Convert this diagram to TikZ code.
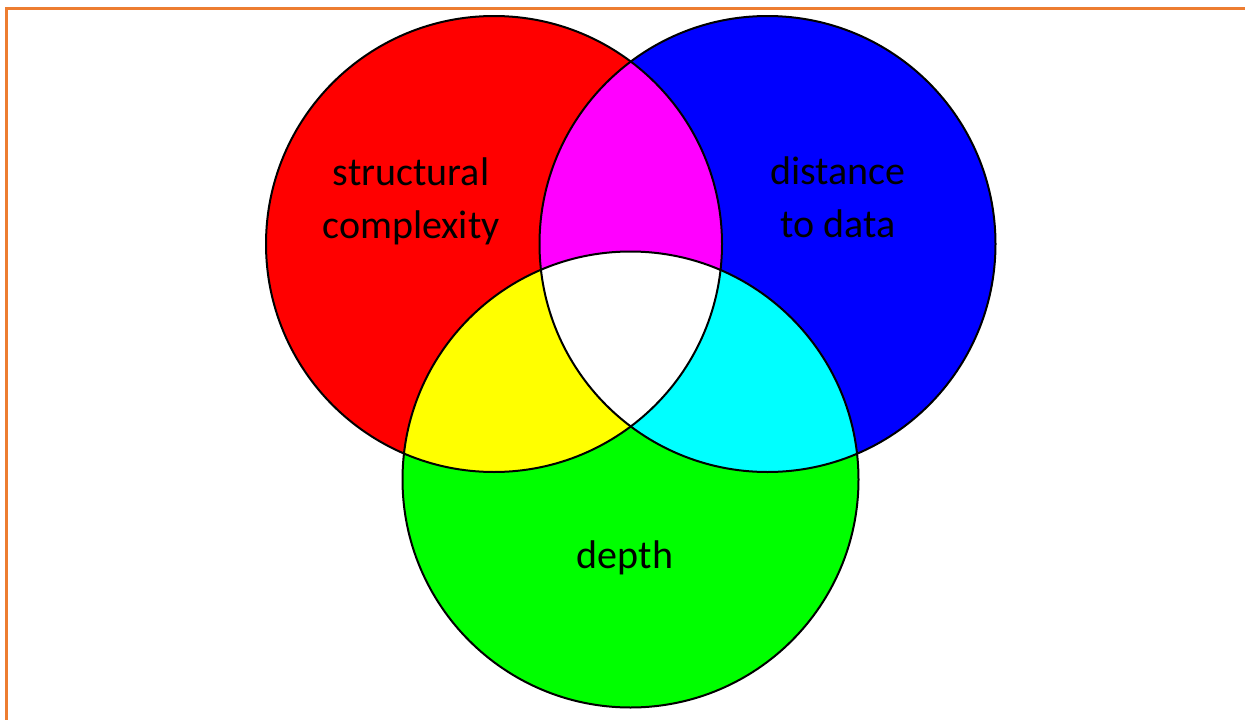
\documentclass[tikz,border=0pt]{standalone}
\usepackage{fontspec}
\setmainfont{Carlito}
\definecolor{frameorange}{HTML}{ED7D31}
\definecolor{vred}{HTML}{FF0000}
\definecolor{vblue}{HTML}{0000FF}
\definecolor{vgreen}{HTML}{00FF00}
\definecolor{vmag}{HTML}{FF00FF}
\definecolor{vyel}{HTML}{FFFF00}
\definecolor{vcyan}{HTML}{00FFFF}
\tikzset{
  ring/.style={draw=black, line width=2pt},
  lab/.style={align=center, font=\fontsize{40}{53}\selectfont, text=black, inner sep=0pt},
}
\begin{document}
\begin{tikzpicture}[x=1pt,y=-1pt]
\useasboundingbox (0,0) rectangle (1245,720);
\fill[white] (0,0) rectangle (1245,720);
\coordinate (cr) at (494,244);
\coordinate (cb) at (767.5,244);
\coordinate (cg) at (630.5,479.5);
\def\rr{228}
% base fills
\fill[vred] (cr) circle (\rr);
\fill[vblue] (cb) circle (\rr);
\fill[vgreen] (cg) circle (\rr);
% pairwise overlaps
\begin{scope}
  \clip (cr) circle (\rr);
  \fill[vmag] (cb) circle (\rr);
\end{scope}
\begin{scope}
  \clip (cr) circle (\rr);
  \fill[vyel] (cg) circle (\rr);
\end{scope}
\begin{scope}
  \clip (cb) circle (\rr);
  \fill[vcyan] (cg) circle (\rr);
\end{scope}
\begin{scope}
  \clip (cr) circle (\rr);
  \clip (cb) circle (\rr);
  \fill[white] (cg) circle (\rr);
\end{scope}
% outlines
\draw[ring] (cr) circle (\rr);
\draw[ring] (cb) circle (\rr);
\draw[ring] (cg) circle (\rr);
% labels
\node[lab] (sc) at (411,201) {structural\\complexity};
\node[lab] (dd) at (838,197) {distance\\to data};
\node[lab] (dp) at (625,558) {depth};
% frame
\coordinate (f1) at (6,720);
\coordinate (f2) at (6,8);
\coordinate (f3) at (1245,8);
\draw[frameorange, line width=3pt] (f1) -- (f2) -- (f3);
\end{tikzpicture}
\end{document}
